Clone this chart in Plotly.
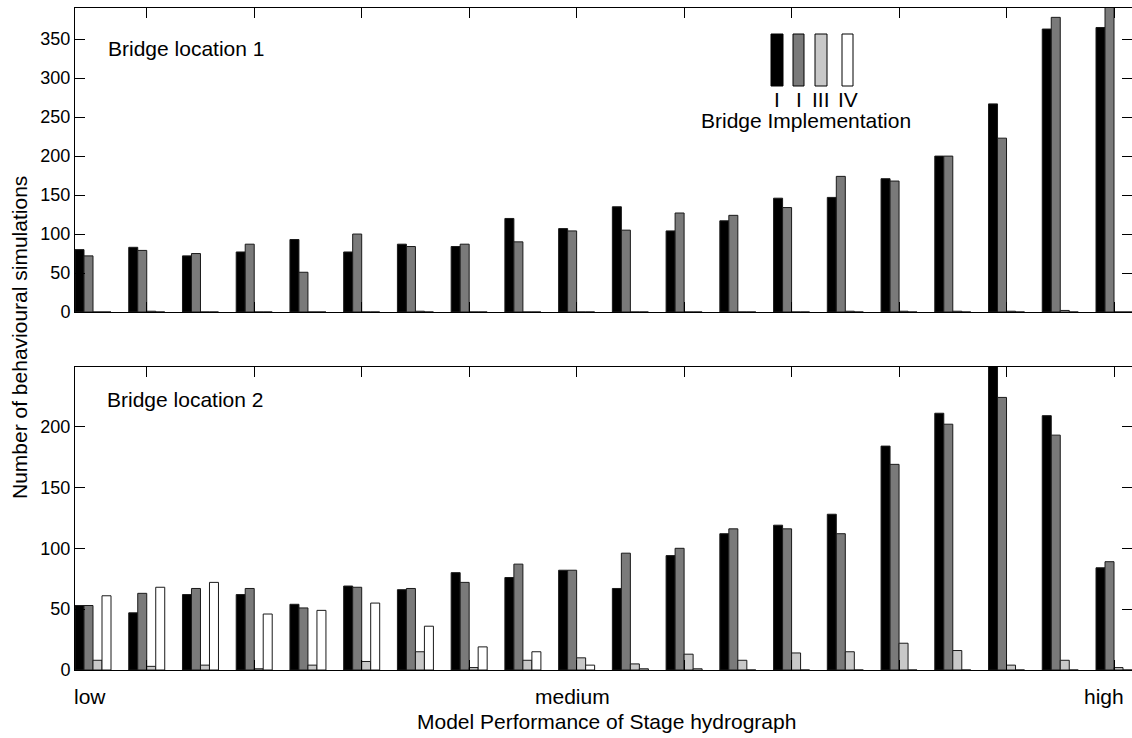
import plotly.graph_objects as go

# Performance classes from low to high (20 bins)
groups = list(range(1, 21))

# Bridge location 1: behavioural simulations per bridge implementation
loc1_I_a = [80, 83, 72, 77, 93, 77, 87, 84, 120, 107, 135, 104, 117, 146, 147, 171, 200, 267, 363, 365]
loc1_I_b = [72, 79, 75, 87, 51, 100, 84, 87, 90, 104, 105, 127, 124, 134, 174, 168, 200, 223, 378, 400]
loc1_III = [0, 1, 0, 0, 0, 0, 1, 0, 0, 0, 0, 0, 0, 0, 1, 1, 1, 1, 2, 0]
loc1_IV = [0] * 20

# Bridge location 2
loc2_I_a = [53, 47, 62, 62, 54, 69, 66, 80, 76, 82, 67, 94, 112, 119, 128, 184, 211, 255, 209, 84]
loc2_I_b = [53, 63, 67, 67, 51, 68, 67, 72, 87, 82, 96, 100, 116, 116, 112, 169, 202, 224, 193, 89]
loc2_III = [8, 3, 4, 1, 4, 7, 15, 2, 8, 10, 5, 13, 8, 14, 15, 22, 16, 4, 8, 2]
loc2_IV = [61, 68, 72, 46, 49, 55, 36, 19, 15, 4, 1, 1, 0, 0, 0, 0, 0, 0, 0, 0]

impl_labels = ["I", "I", "III", "IV"]
impl_colors = ["#000000", "#7a7a7a", "#c8c8c8", "#ffffff"]

perf_labels = ["low", "medium", "high"]
y1_ticks = [0, 50, 100, 150, 200, 250, 300, 350]
y2_ticks = [0, 50, 100, 150, 200]
x_ticks = list(range(2, 21, 2))

FONT = "Liberation Sans, Arial, Helvetica, sans-serif"
W, H = 1132, 738
ML, MR, MT, MB = 75, 0, 8, 68
PW = W - ML - MR
PH = H - MT - MB


def px(x):
    return (x - ML) / PW


def py(y):
    return (H - MB - y) / PH


fig = go.Figure()

panels = [
    ([loc1_I_a, loc1_I_b, loc1_III, loc1_IV], "x", "y"),
    ([loc2_I_a, loc2_I_b, loc2_III, loc2_IV], "x2", "y2"),
]
for series, xa, ya in panels:
    for name, vals, col in zip(impl_labels, series, impl_colors):
        fig.add_trace(go.Bar(
            x=groups, y=vals, name=name, xaxis=xa, yaxis=ya,
            marker=dict(color=col, line=dict(color="#1a1a1a", width=1)),
            showlegend=False,
        ))

xcommon = dict(
    range=[0.665, 20.335], tickvals=x_ticks, ticks="inside", ticklen=10,
    tickcolor="black", showline=True, linecolor="black", linewidth=1,
    mirror="ticks", showticklabels=False, showgrid=False, zeroline=False,
)
ycommon = dict(
    ticks="inside", ticklen=10, tickcolor="black", showgrid=False,
    zeroline=False, tickfont=dict(family=FONT, size=18, color="black"),
)

top_dom = [py(312), 1.0]
bot_dom = [0.0, py(367)]

fig.update_layout(
    width=W, height=H,
    margin=dict(l=ML, r=MR, t=MT, b=MB),
    paper_bgcolor="white", plot_bgcolor="white",
    barmode="group", bargap=0.33, bargroupgap=0.0,
    font=dict(family=FONT, color="black"),
    xaxis=dict(anchor="y", domain=[0, 1], **xcommon),
    xaxis2=dict(anchor="y2", domain=[0, 1], **xcommon),
    yaxis=dict(anchor="x", domain=top_dom, range=[0, 390], tickvals=y1_ticks,
               showline=True, linecolor="black", linewidth=1, **ycommon),
    yaxis2=dict(anchor="x2", domain=bot_dom, range=[0, 249], tickvals=y2_ticks,
                showline=True, linecolor="black", linewidth=1, **ycommon),
    yaxis3=dict(anchor="x", overlaying="y", side="right", range=[0, 390],
                tickvals=y1_ticks, showticklabels=False, showline=False, **ycommon),
    yaxis4=dict(anchor="x2", overlaying="y2", side="right", range=[0, 249],
                tickvals=y2_ticks, showticklabels=False, showline=False, **ycommon),
)

# empty traces so the right-hand tick axes are rendered
fig.add_trace(go.Scatter(x=[None], y=[None], xaxis="x", yaxis="y3", showlegend=False, hoverinfo="skip"))
fig.add_trace(go.Scatter(x=[None], y=[None], xaxis="x2", yaxis="y4", showlegend=False, hoverinfo="skip"))

ann = []
txt = dict(family=FONT, size=21, color="black")
ann.append(dict(text="Bridge location 1", x=px(106), y=py(49), xref="paper", yref="paper",
                xanchor="left", yanchor="middle", showarrow=False, font=txt))
ann.append(dict(text="Bridge location 2", x=px(105), y=py(400), xref="paper", yref="paper",
                xanchor="left", yanchor="middle", showarrow=False, font=txt))

# implementation key
key_x = [(771, 783), (793, 804), (815, 827), (842, 853)]
shapes = []
for (x0, x1), col, lab in zip(key_x, impl_colors, impl_labels):
    shapes.append(dict(type="rect", xref="paper", yref="paper",
                       x0=px(x0), x1=px(x1), y0=py(86), y1=py(34),
                       fillcolor=col, line=dict(color="black", width=1)))
    ann.append(dict(text=lab, x=px((x0 + x1) / 2), y=py(100), xref="paper", yref="paper",
                    xanchor="center", yanchor="middle", showarrow=False, font=txt))
ann.append(dict(text="Bridge Implementation", x=px(806), y=py(121), xref="paper", yref="paper",
                xanchor="center", yanchor="middle", showarrow=False, font=txt))

# performance class labels under the lower panel
for lab, xpos in zip(perf_labels, [89.5, 572, 1103.5]):
    ann.append(dict(text=lab, x=px(xpos), y=py(696), xref="paper", yref="paper",
                    xanchor="center", yanchor="middle", showarrow=False, font=txt))

ann.append(dict(text="Model Performance of Stage hydrograph", x=px(606), y=py(721),
                xref="paper", yref="paper", xanchor="center", yanchor="middle",
                showarrow=False, font=txt))
ann.append(dict(text="Number of behavioural simulations", x=px(19), y=py(338),
                xref="paper", yref="paper", xanchor="center", yanchor="middle",
                textangle=-90, showarrow=False, font=txt))

fig.update_layout(annotations=ann, shapes=shapes)
fig.write_html("out.html")
